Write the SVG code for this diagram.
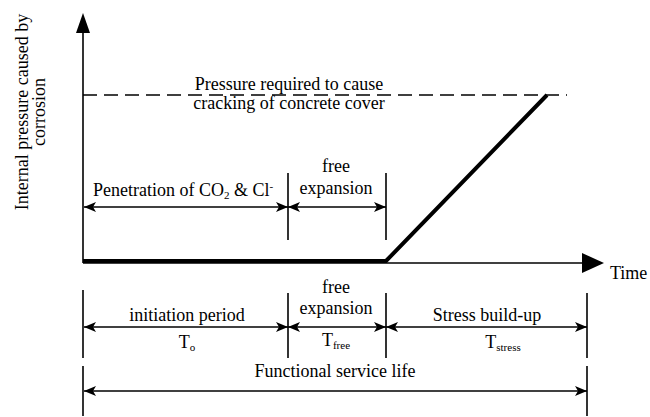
<svg xmlns="http://www.w3.org/2000/svg" width="650" height="417" viewBox="0 0 650 417" font-family="'Liberation Serif', serif">
<style>
text{font-family:"Liberation Serif",serif;font-size:18px;fill:#000}
.l{stroke:#000;stroke-width:1.6;fill:none}
.d{stroke:#000;stroke-width:1.5;fill:none;marker-start:url(#a);marker-end:url(#a)}
.s{font-size:11px}
</style>
<defs>
<marker id="a" viewBox="0 0 12 10" refX="12" refY="5" markerWidth="12" markerHeight="10" markerUnits="userSpaceOnUse" orient="auto-start-reverse">
<path d="M0,0 L12,5 L0,10 L3,5 Z" fill="#000"/>
</marker>
</defs>
<rect width="650" height="417" fill="#fff"/>
<g id="axes">
<line class="l" x1="83" y1="30" x2="83" y2="263"/>
<path d="M76,33 L83,13 L90,33 Z" fill="#000"/>
<line class="l" x1="83" y1="263" x2="585" y2="263"/>
<path d="M582,253 L604,263 L582,273 Z" fill="#000"/>
<text x="610" y="279">Time</text>
<text transform="translate(28,112) rotate(-90)" text-anchor="middle">Internal pressure caused by</text>
<text transform="translate(45,112) rotate(-90)" text-anchor="middle">corrosion</text>
</g>
<g id="threshold">
<line x1="83" y1="95" x2="567" y2="95" stroke="#000" stroke-width="1.3" stroke-dasharray="14,7"/>
<text x="289" y="90" text-anchor="middle">Pressure required to cause</text>
<text x="289" y="109" text-anchor="middle">cracking of concrete cover</text>
</g>
<g id="curve">
<polyline points="83,261 386,261 547,95" fill="none" stroke="#000" stroke-width="4"/>
</g>
<g id="connectors">
<line class="l" x1="288" y1="173" x2="288" y2="240"/>
<line class="l" x1="386" y1="173" x2="386" y2="240"/>
<line class="d" x1="84" y1="207" x2="288" y2="207"/>
<line class="d" x1="288" y1="207" x2="386" y2="207"/>
<line class="l" x1="83" y1="290" x2="83" y2="358"/>
<line class="l" x1="288" y1="293" x2="288" y2="358"/>
<line class="l" x1="386" y1="293" x2="386" y2="358"/>
<line class="l" x1="587" y1="293" x2="587" y2="358"/>
<line class="d" x1="84" y1="327" x2="288" y2="327"/>
<line class="d" x1="288" y1="327" x2="386" y2="327"/>
<line class="d" x1="386" y1="327" x2="587" y2="327"/>
<line class="l" x1="83" y1="366" x2="83" y2="416"/>
<line class="l" x1="587" y1="366" x2="587" y2="416"/>
<line class="d" x1="84" y1="391" x2="587" y2="391"/>
</g>
<g id="upper-labels">
<text x="183" y="196" text-anchor="middle">Penetration of CO<tspan class="s" dy="3">2</tspan><tspan dy="-3"> &amp; Cl</tspan><tspan class="s" dy="-6">-</tspan></text>
<text x="336" y="172" text-anchor="middle">free</text>
<text x="336" y="194" text-anchor="middle">expansion</text>
</g>
<g id="lower-labels">
<text x="187" y="321" text-anchor="middle">initiation period</text>
<text x="187" y="348" text-anchor="middle">T<tspan class="s" dy="3">o</tspan></text>
<text x="336" y="293" text-anchor="middle">free</text>
<text x="336" y="314" text-anchor="middle">expansion</text>
<text x="336" y="346" text-anchor="middle">T<tspan class="s" dy="3">free</tspan></text>
<text x="487" y="321" text-anchor="middle">Stress build-up</text>
<text x="503" y="348" text-anchor="middle">T<tspan class="s" dy="3">stress</tspan></text>
<text x="335" y="377" text-anchor="middle">Functional service life</text>
</g>
</svg>
